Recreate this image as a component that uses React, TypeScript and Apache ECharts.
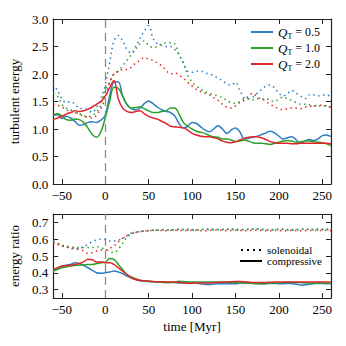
import React, { useEffect, useRef } from "react";
import * as echarts from "echarts";

const times = [
  -60, -55, -50, -45, -40, -35, -30, -25, -20, -15, -10, -5, 0, 5, 10, 15, 20, 25, 30, 35, 40, 45, 50, 55, 60,
  65, 70, 75, 80, 85, 90, 95, 100, 105, 110, 115, 120, 125, 130, 135, 140, 145, 150, 155, 160, 165, 170, 175,
  180, 185, 190, 195, 200, 205, 210, 215, 220, 225, 230, 235, 240, 245, 250, 255, 260,
];

// top panel: turbulent energy, compressive (solid) per Q_T
const turbSolid05 = [
  1.25, 1.26, 1.19, 1.23, 1.2, 1.14, 1.07, 1.08, 1.12, 1.13, 1.12, 1.16, 1.25, 1.6, 1.85, 1.86, 1.6, 1.44, 1.37,
  1.35, 1.38, 1.46, 1.51, 1.46, 1.4, 1.35, 1.32, 1.3, 1.24, 1.1, 1.02, 1.05, 1.12, 1.1, 1.04, 0.98, 0.95, 1.0,
  1.06, 1.0, 0.92, 0.98, 1.02, 0.95, 0.82, 0.83, 0.85, 0.87, 0.9, 0.93, 0.96, 0.93, 0.87, 0.82, 0.84, 0.86, 0.8,
  0.74, 0.78, 0.81, 0.79, 0.82, 0.88, 0.89, 0.86,
];
const turbSolid10 = [
  1.25, 1.28, 1.24, 1.17, 1.16, 1.18, 1.17, 1.12, 1.02, 0.9, 0.85, 0.95, 1.2, 1.5, 1.76, 1.74, 1.6, 1.45, 1.38,
  1.39, 1.4, 1.37, 1.33, 1.3, 1.3, 1.32, 1.33, 1.38, 1.38, 1.27, 1.12, 1.05, 1.0, 0.96, 0.94, 0.92, 0.88, 0.86,
  0.85, 0.82, 0.82, 0.8, 0.77, 0.78, 0.8, 0.78, 0.75, 0.74, 0.74, 0.73, 0.72, 0.74, 0.76, 0.78, 0.79, 0.78, 0.76,
  0.77, 0.78, 0.78, 0.77, 0.76, 0.75, 0.73, 0.7,
];
const turbSolid20 = [
  1.17, 1.2, 1.23, 1.27, 1.3, 1.33, 1.32, 1.33, 1.36, 1.4, 1.45, 1.5, 1.6, 1.75, 1.88, 1.55, 1.38, 1.32, 1.3,
  1.32, 1.33, 1.28, 1.23, 1.2, 1.18, 1.14, 1.1, 1.05, 1.04, 1.03, 1.02, 0.98, 0.92, 0.89, 0.87, 0.86, 0.86, 0.84,
  0.82, 0.78, 0.76, 0.75, 0.77, 0.8, 0.83, 0.85, 0.86, 0.86, 0.84, 0.81, 0.77, 0.75, 0.74, 0.74, 0.74, 0.73, 0.73,
  0.74, 0.74, 0.74, 0.74, 0.74, 0.74, 0.74, 0.73,
];
// top panel: solenoidal (dotted)
const turbDot05 = [
  1.82, 1.7, 1.55, 1.48, 1.5, 1.45, 1.38, 1.37, 1.35, 1.3, 1.4, 1.55, 1.8, 2.2, 2.6, 2.7, 2.6, 2.45, 2.38, 2.5,
  2.65, 2.78, 2.88, 2.65, 2.55, 2.52, 2.5, 2.5, 2.45, 2.35, 2.2, 2.05, 2.03, 2.05, 2.05, 2.02, 2.0, 1.97, 1.92,
  1.88, 1.82, 1.8, 1.85, 1.7, 1.57, 1.55, 1.58, 1.65, 1.72, 1.78, 1.8, 1.75, 1.65, 1.6, 1.65, 1.7, 1.65, 1.6,
  1.55, 1.62, 1.62, 1.6, 1.62, 1.62, 1.58,
];
const turbDot10 = [
  1.65, 1.6, 1.45, 1.38, 1.35, 1.3, 1.28, 1.24, 1.22, 1.25, 1.3, 1.45, 1.7, 1.85, 2.0, 2.05, 2.15, 2.25, 2.35,
  2.45, 2.55, 2.6, 2.52, 2.48, 2.5, 2.55, 2.57, 2.57, 2.55, 2.35, 2.2, 1.98, 1.85, 1.78, 1.72, 1.68, 1.65, 1.62,
  1.6, 1.57, 1.52, 1.48, 1.47, 1.5, 1.55, 1.55, 1.53, 1.55, 1.55, 1.55, 1.52, 1.5, 1.55, 1.58, 1.55, 1.52, 1.48,
  1.45, 1.45, 1.44, 1.42, 1.42, 1.42, 1.41, 1.4,
];
const turbDot20 = [
  1.45, 1.43, 1.4, 1.35, 1.32, 1.3, 1.28, 1.23, 1.22, 1.2, 1.25, 1.38, 1.55, 1.85, 2.0, 2.05, 2.08, 2.08, 2.12,
  2.2, 2.25, 2.3, 2.27, 2.25, 2.2, 2.15, 2.07, 2.0, 2.02, 1.98, 1.92, 1.85, 1.78, 1.72, 1.68, 1.65, 1.62, 1.57,
  1.52, 1.45, 1.4, 1.38, 1.42, 1.48, 1.52, 1.6, 1.65, 1.58, 1.55, 1.5, 1.45, 1.4, 1.37, 1.35, 1.37, 1.38, 1.38,
  1.37, 1.4, 1.41, 1.42, 1.43, 1.43, 1.42, 1.4,
];

// bottom panel: energy ratio
const ratioSolid05 = [
  0.41, 0.425, 0.44, 0.445, 0.45, 0.46, 0.455, 0.445, 0.43, 0.415, 0.4, 0.397, 0.4, 0.405, 0.41, 0.405, 0.395,
  0.38, 0.37, 0.36, 0.352, 0.35, 0.348, 0.347, 0.345, 0.344, 0.343, 0.342, 0.342, 0.34, 0.34, 0.34, 0.34, 0.338,
  0.335, 0.33, 0.33, 0.333, 0.335, 0.335, 0.335, 0.335, 0.335, 0.338, 0.34, 0.338, 0.338, 0.336, 0.335, 0.335,
  0.337, 0.337, 0.335, 0.335, 0.337, 0.335, 0.332, 0.328, 0.328, 0.332, 0.335, 0.337, 0.336, 0.335, 0.335,
];
const ratioSolid10 = [
  0.41, 0.42, 0.43, 0.435, 0.44, 0.443, 0.445, 0.447, 0.45, 0.45, 0.455, 0.46, 0.462, 0.485, 0.48, 0.45, 0.42,
  0.39, 0.375, 0.365, 0.355, 0.352, 0.35, 0.347, 0.345, 0.343, 0.342, 0.343, 0.345, 0.35, 0.348, 0.346, 0.345,
  0.345, 0.345, 0.345, 0.345, 0.345, 0.345, 0.345, 0.345, 0.343, 0.342, 0.34, 0.34, 0.338, 0.336, 0.335, 0.335,
  0.337, 0.34, 0.34, 0.34, 0.342, 0.343, 0.343, 0.343, 0.342, 0.34, 0.34, 0.34, 0.34, 0.339, 0.338, 0.338,
];
const ratioSolid20 = [
  0.42, 0.43, 0.44, 0.443, 0.445, 0.45, 0.455, 0.465, 0.48, 0.478, 0.465, 0.465, 0.46, 0.46, 0.45, 0.43, 0.41,
  0.39, 0.37, 0.36, 0.355, 0.352, 0.35, 0.348, 0.347, 0.346, 0.346, 0.345, 0.345, 0.343, 0.34, 0.338, 0.338,
  0.339, 0.34, 0.34, 0.34, 0.342, 0.343, 0.344, 0.345, 0.347, 0.348, 0.348, 0.347, 0.345, 0.343, 0.342, 0.342,
  0.343, 0.344, 0.345, 0.345, 0.345, 0.345, 0.345, 0.345, 0.345, 0.345, 0.345, 0.345, 0.345, 0.345, 0.345, 0.345,
];
const ratioDot05 = [
  0.59, 0.575, 0.56, 0.555, 0.545, 0.54, 0.545, 0.555, 0.57, 0.585, 0.595, 0.6, 0.598, 0.59, 0.59, 0.595, 0.605,
  0.62, 0.635, 0.643, 0.648, 0.65, 0.652, 0.654, 0.655, 0.657, 0.657, 0.655, 0.655, 0.656, 0.658, 0.66, 0.658,
  0.656, 0.658, 0.66, 0.662, 0.66, 0.658, 0.657, 0.658, 0.66, 0.66, 0.658, 0.657, 0.658, 0.66, 0.662, 0.66, 0.658,
  0.657, 0.658, 0.66, 0.66, 0.658, 0.657, 0.658, 0.66, 0.66, 0.658, 0.66, 0.662, 0.66, 0.66, 0.662,
];
const ratioDot10 = [
  0.585, 0.575, 0.565, 0.56, 0.555, 0.552, 0.55, 0.55, 0.55, 0.55, 0.555, 0.548, 0.54, 0.53, 0.52, 0.54, 0.575,
  0.61, 0.63, 0.64, 0.645, 0.648, 0.65, 0.652, 0.655, 0.655, 0.655, 0.656, 0.657, 0.66, 0.658, 0.655, 0.653,
  0.655, 0.657, 0.658, 0.656, 0.655, 0.656, 0.658, 0.66, 0.658, 0.656, 0.655, 0.657, 0.66, 0.662, 0.66, 0.658,
  0.656, 0.655, 0.656, 0.658, 0.657, 0.655, 0.654, 0.656, 0.658, 0.66, 0.658, 0.656, 0.655, 0.656, 0.657, 0.655,
];
const ratioDot20 = [
  0.58, 0.57, 0.56, 0.553, 0.55, 0.545, 0.54, 0.53, 0.515, 0.52, 0.53, 0.535, 0.535, 0.545, 0.56, 0.585, 0.605,
  0.62, 0.635, 0.64, 0.645, 0.648, 0.65, 0.652, 0.653, 0.652, 0.65, 0.652, 0.654, 0.653, 0.651, 0.652, 0.654,
  0.653, 0.651, 0.65, 0.652, 0.654, 0.655, 0.653, 0.651, 0.652, 0.654, 0.652, 0.65, 0.651, 0.653, 0.654, 0.652,
  0.65, 0.651, 0.653, 0.652, 0.65, 0.651, 0.653, 0.652, 0.65, 0.651, 0.652, 0.652, 0.651, 0.652, 0.653, 0.652,
];

const qLabels = ["0.5", "1.0", "2.0"];
const colors = ["#2f7ec1", "#2ca02c", "#e0262b"];
const xTicks = [-50, 0, 50, 100, 150, 200, 250];
const yTopTicks = [0, 0.5, 1, 1.5, 2, 2.5, 3];
const yBottomTicks = [0.3, 0.4, 0.5, 0.6, 0.7];

const FONT = "Liberation Serif";
const AXIS_COLOR = "#222";
const SOLID_ICON = "path://M0,0h22v2h-22z";
const DOT_ICON = "path://M0,0h2v2h-2z M6,0h2v2h-2z M12,0h2v2h-2z M18,0h2v2h-2z";

function pairs(vals: number[]) {
  return times.map((t, i) => [t, vals[i]]);
}

function xAxisDef(gridIndex: number, position: "top" | "bottom", showLabel: boolean, name?: string) {
  return {
    type: "value",
    gridIndex,
    position,
    min: -60,
    max: 260,
    name,
    nameLocation: "middle",
    nameGap: 22,
    nameTextStyle: { fontFamily: FONT, fontSize: 13, color: "#000" },
    axisLine: { show: true, onZero: false, lineStyle: { color: AXIS_COLOR, width: 1.2 } },
    axisTick: { show: true, inside: true, length: 5, customValues: xTicks, lineStyle: { color: AXIS_COLOR } },
    axisLabel: {
      show: showLabel,
      customValues: xTicks,
      fontFamily: FONT,
      fontSize: 13,
      color: "#000",
      margin: 5,
      formatter: (v: number) => (v < 0 ? "\u2212" + Math.abs(v) : String(v)),
    },
    splitLine: { show: false },
  };
}

function yAxisDef(
  gridIndex: number,
  position: "left" | "right",
  showLabel: boolean,
  min: number,
  max: number,
  ticks: number[],
  name?: string
) {
  return {
    type: "value",
    gridIndex,
    position,
    min,
    max,
    name,
    nameLocation: "middle",
    nameGap: 30,
    nameTextStyle: { fontFamily: FONT, fontSize: 13, color: "#000" },
    axisLine: { show: true, onZero: false, lineStyle: { color: AXIS_COLOR, width: 1.2 } },
    axisTick: { show: true, inside: true, length: 5, customValues: ticks, lineStyle: { color: AXIS_COLOR } },
    axisLabel: {
      show: showLabel,
      customValues: ticks,
      fontFamily: FONT,
      fontSize: 13,
      color: "#000",
      margin: 5,
      formatter: (v: number) => v.toFixed(1),
    },
    splitLine: { show: false },
  };
}

const vline = (show: boolean) =>
  show
    ? {
        silent: true,
        symbol: "none",
        label: { show: false },
        lineStyle: { color: "#8a8a8a", type: [8, 5], width: 1.3 },
        data: [{ xAxis: 0 }],
      }
    : undefined;

export default function App() {
  const ref = useRef<HTMLDivElement>(null);
  useEffect(() => {
    if (!ref.current) return;
    const chart = echarts.init(ref.current, undefined, { renderer: "svg" });
    const topSolid = [turbSolid05, turbSolid10, turbSolid20];
    const topDot = [turbDot05, turbDot10, turbDot20];
    const botSolid = [ratioSolid05, ratioSolid10, ratioSolid20];
    const botDot = [ratioDot05, ratioDot10, ratioDot20];
    const series: any[] = [];
    const dotted = [1.5, 3.5];
    for (let i = 0; i < 3; i++) {
      series.push({
        type: "line",
        name: "d" + qLabels[i],
        xAxisIndex: 0,
        yAxisIndex: 0,
        data: pairs(topDot[i]),
        smooth: 0.35,
        symbol: "none",
        lineStyle: { color: colors[i], width: 1.5, type: dotted },
        itemStyle: { color: colors[i] },
        z: 2,
      });
    }
    for (let i = 0; i < 3; i++) {
      series.push({
        type: "line",
        name: "Q" + qLabels[i],
        xAxisIndex: 0,
        yAxisIndex: 0,
        data: pairs(topSolid[i]),
        smooth: 0.35,
        symbol: "none",
        lineStyle: { color: colors[i], width: 1.5 },
        itemStyle: { color: colors[i] },
        markLine: vline(i === 0),
        z: 3,
      });
    }
    for (let i = 0; i < 3; i++) {
      series.push({
        type: "line",
        name: "r" + qLabels[i],
        xAxisIndex: 2,
        yAxisIndex: 2,
        data: pairs(botDot[i]),
        smooth: 0.35,
        symbol: "none",
        lineStyle: { color: colors[i], width: 1.5, type: dotted },
        itemStyle: { color: colors[i] },
        z: 2,
      });
      series.push({
        type: "line",
        name: "c" + qLabels[i],
        xAxisIndex: 2,
        yAxisIndex: 2,
        data: pairs(botSolid[i]),
        smooth: 0.35,
        symbol: "none",
        lineStyle: { color: colors[i], width: 1.5 },
        itemStyle: { color: colors[i] },
        markLine: vline(i === 0),
        z: 3,
      });
    }
    series.push({
      type: "line",
      name: "solenoidal",
      xAxisIndex: 2,
      yAxisIndex: 2,
      data: [],
      symbol: "none",
      lineStyle: { color: "#000", width: 1.5, type: dotted },
      itemStyle: { color: "#000" },
    });
    series.push({
      type: "line",
      name: "compressive",
      xAxisIndex: 2,
      yAxisIndex: 2,
      data: [],
      symbol: "none",
      lineStyle: { color: "#000", width: 1.5 },
      itemStyle: { color: "#000" },
    });

    chart.setOption({
      animation: false,
      backgroundColor: "#fff",
      grid: [
        { left: 52, top: 19, width: 279, height: 165 },
        { left: 52, top: 214, width: 279, height: 84 },
      ],
      xAxis: [
        xAxisDef(0, "bottom", true),
        xAxisDef(0, "top", false),
        xAxisDef(1, "bottom", true, "time [Myr]"),
        xAxisDef(1, "top", false),
      ],
      yAxis: [
        yAxisDef(0, "left", true, 0, 3, yTopTicks, "turbulent energy"),
        yAxisDef(0, "right", false, 0, 3, yTopTicks),
        yAxisDef(1, "left", true, 0.25, 0.75, yBottomTicks, "energy ratio"),
        yAxisDef(1, "right", false, 0.25, 0.75, yBottomTicks),
      ],
      legend: [
        {
          data: qLabels.map((q) => ({ name: "Q" + q, icon: SOLID_ICON })),
          orient: "vertical",
          left: 246,
          top: 19,
          itemWidth: 22,
          itemHeight: 2,
          itemGap: 0,
          formatter: (name: string) => "{q|Q}{s|T}{n| = " + name.slice(1) + "}",
          textStyle: {
            lineHeight: 16,
            rich: {
              q: { fontFamily: FONT, fontStyle: "italic", fontSize: 13, color: "#000", lineHeight: 16 },
              s: {
                fontFamily: FONT,
                fontSize: 8,
                color: "#000",
                lineHeight: 16,
                verticalAlign: "bottom",
                padding: [6, 0, 0, 0],
              },
              n: { fontFamily: FONT, fontSize: 12, color: "#000", lineHeight: 16 },
            },
          },
        },
        {
          data: [
            { name: "solenoidal", icon: DOT_ICON },
            { name: "compressive", icon: SOLID_ICON },
          ],
          orient: "vertical",
          left: 235,
          top: 239,
          itemWidth: 22,
          itemHeight: 2,
          itemGap: -1,
          textStyle: { fontFamily: FONT, fontSize: 11, color: "#000", lineHeight: 12 },
        },
      ],
      series,
    });
    return () => chart.dispose();
  }, []);
  return <div ref={ref} style={{ width: 346, height: 346, margin: -8 }} />;
}
